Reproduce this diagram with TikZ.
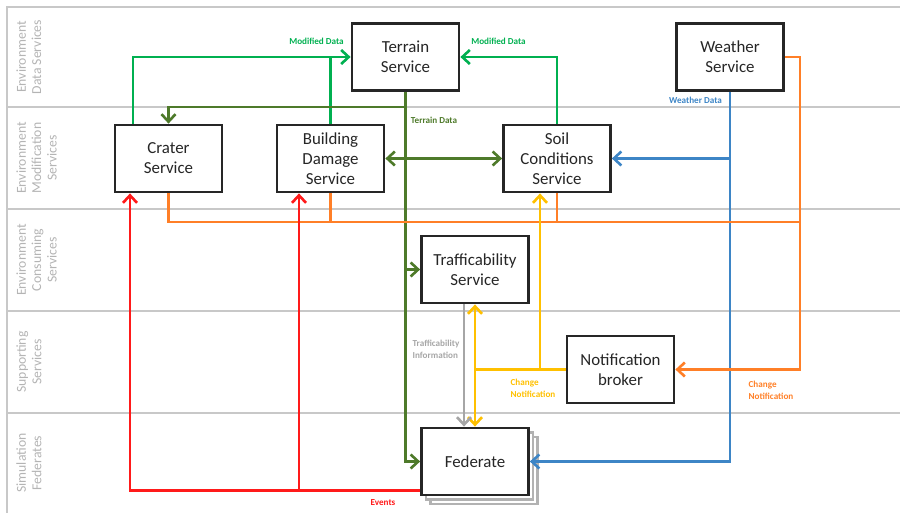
\documentclass[tikz,border=0pt]{standalone}
\usepackage{fontspec}
\setmainfont{Carlito}
\usetikzlibrary{arrows.meta}
\definecolor{boxgray}{HTML}{262626}
\definecolor{lanegray}{HTML}{C8C8C8}
\definecolor{lanetext}{HTML}{B4B4B4}
\definecolor{modgreen}{HTML}{00B050}
\definecolor{terrgreen}{HTML}{4E7A2A}
\definecolor{wthblue}{HTML}{3D85C6}
\definecolor{chgorange}{HTML}{FF7F27}
\definecolor{chgyellow}{HTML}{FFC000}
\definecolor{infogray}{HTML}{A6A6A6}
\definecolor{evtred}{HTML}{FF1A1A}

\begin{document}
\begin{tikzpicture}[x=0.02cm,y=-0.02cm,
	>={Straight Barb[length=1.5mm,width=2.8mm]},
	service/.style={align=center,rectangle,minimum width=2.14cm,minimum height=1.34cm,text centered,draw=boxgray,line width=1.6pt,fill=white,text=boxgray,font=\fontsize{9.6}{11.4}\selectfont},
	shadowbox/.style={rectangle,minimum width=2.14cm,minimum height=1.34cm,draw=gray!60,line width=1.2pt,fill=white},
	lanelabel/.style={align=center,rotate=90,anchor=north,inner sep=0pt,text=lanetext,font=\fontsize{7.8}{8.8}\selectfont},
	laneline/.style={draw=lanegray,line width=1.2pt},
	flowlabel/.style={align=left,inner sep=0pt,font=\fontsize{5.2}{6.8}\selectfont\bfseries},
	flow/.style={line width=1.5pt},
	moddata/.style={flow,draw=modgreen},
	terrdata/.style={flow,draw=terrgreen},
	wthdata/.style={flow,draw=wthblue},
	chgnote/.style={flow,draw=chgorange},
	chgsub/.style={flow,draw=chgyellow},
	trafinfo/.style={flow,draw=infogray},
	events/.style={flow,draw=evtred}]
	\useasboundingbox (0,0) rectangle (900,513);

	\draw[laneline] (7,513) -- (7,7) -- (900,7);
	\foreach \y in {107,209,311,413}
		\draw[laneline] (7,\y) -- (900,\y);

	\node (lane1)[lanelabel] at (16,57) {Environment\\Data Services};
	\node (lane2)[lanelabel] at (16,158) {Environment\\Modification\\Services};
	\node (lane3)[lanelabel] at (16,260) {Environment\\Consuming\\Services};
	\node (lane4)[lanelabel] at (16,362) {Supporting\\Services};
	\node (lane5)[lanelabel] at (16,463) {Simulation\\Federates};

	\node (terrain)[service] at (405.5,57) {Terrain\\Service};
	\node (weather)[service] at (730,57) {Weather\\Service};
	\node (crater)[service] at (168.5,158.5) {Crater\\Service};
	\node (building)[service] at (330.5,158.5) {Building\\Damage\\Service};
	\node (soil)[service] at (557,158.5) {Soil\\Conditions\\Service};
	\node (traffic)[service] at (475,269.5) {Trafficability\\Service};
	\node (broker)[service] at (620.5,369.5) {Notification\\broker};
	\node (fedback2)[shadowbox] at (484,470.5) {};
	\node (fedback1)[shadowbox] at (479.5,466) {};
	\node (federate)[service] at (475,461.5) {Federate};

	\coordinate (cratermod) at (133,57);
	\coordinate (terrsplit) at (405.5,107);
	\coordinate (chgright) at (800,222);
	\coordinate (soilsub) at (540,369.5);
	\coordinate (infox) at (464,0);
	\coordinate (craterevt) at (130,0);
	\coordinate (buildevt) at (299,0);
	\coordinate (fedevt) at ([yshift=0.12cm]federate.south west);

	\draw[moddata,->] (crater.north -| cratermod) |- (terrain.west);
	\draw[moddata] (building.north) -- (building.north |- terrain.west);
	\draw[moddata,->] (soil.north) |- (terrain.east);

	\draw[terrdata,->] (terrain.south) |- (federate.west);
	\draw[terrdata,->] (terrsplit) -| (crater.north);
	\draw[terrdata,->] (terrain.south |- traffic.west) -- (traffic.west);
	\draw[terrdata,<->] (building.east) -- (soil.west);

	\draw[wthdata,->] (weather.south) |- (federate.east);
	\draw[wthdata,->] (weather.south |- soil.east) -- (soil.east);

	\draw[chgnote,->] (weather.east) -| (chgright) |- (broker.east);
	\draw[chgnote] (crater.south) |- (chgright);
	\draw[chgnote] (building.south) -- (building.south |- chgright);
	\draw[chgnote] (soil.south) -- (soil.south |- chgright);

	\draw[chgsub,<->] (traffic.south) -- (federate.north);
	\draw[chgsub] (broker.west) -- (broker.west -| traffic.south);
	\draw[chgsub,->] (soilsub) -- (soilsub |- soil.south);

	\draw[trafinfo,->] (traffic.south -| infox) -- (federate.north -| infox);

	\draw[events,->] (fedevt) -| (crater.south -| craterevt);
	\draw[events,->] (fedevt -| buildevt) -- (building.south -| buildevt);

	\node (moddata1)[flowlabel,text=modgreen] at (316.5,41) {Modified Data};
	\node (moddata2)[flowlabel,text=modgreen] at (498.5,41) {Modified Data};
	\node (terraindata)[flowlabel,text=terrgreen] at (434,120) {Terrain Data};
	\node (weatherdata)[flowlabel,text=wthblue] at (695.5,100) {Weather Data};
	\node (trafinfolabel)[flowlabel,text=infogray] at (436,349) {Trafficability\\Information};
	\node (changenote1)[flowlabel,text=chgyellow] at (533,388) {Change\\Notification};
	\node (changenote2)[flowlabel,text=chgorange] at (771,390) {Change\\Notification};
	\node (eventslabel)[flowlabel,text=evtred] at (383,503) {Events};
\end{tikzpicture}
\end{document}
